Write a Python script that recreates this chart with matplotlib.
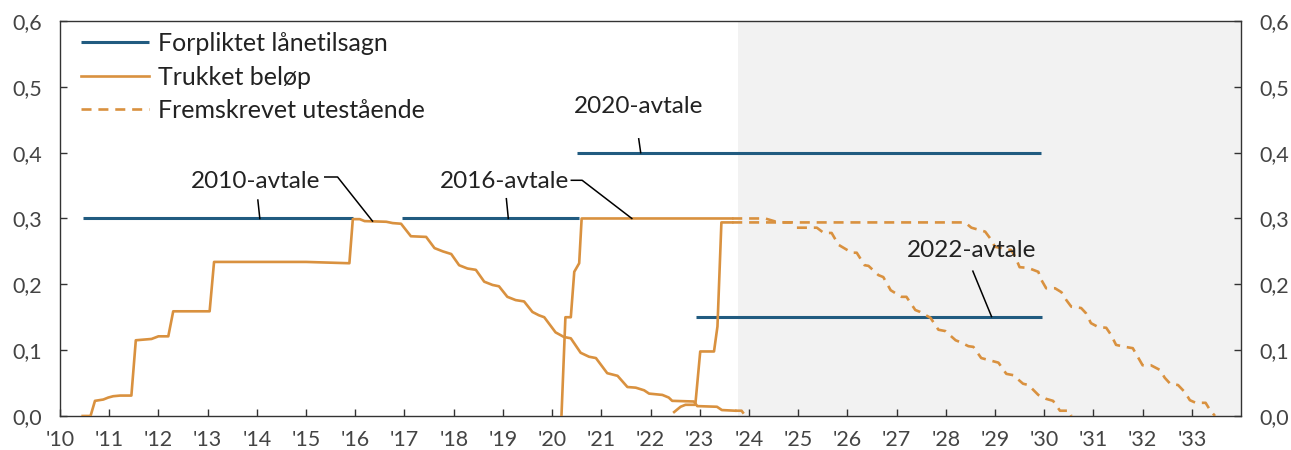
import matplotlib.pyplot as plt
from matplotlib.ticker import FixedLocator, FuncFormatter

plt.rcParams['font.family'] = ['Lato', 'DejaVu Sans']

BLUE = '#215b80'
ORANGE = '#d9913f'

# forpliktet lånetilsagn (avtaleperioder)
commit_start = [2010.46, 2016.94, 2020.51, 2022.92]
commit_end = [2015.95, 2020.55, 2029.94, 2029.95]
commit_level = [0.30, 0.30, 0.40, 0.15]

# trukket beløp, 2010-avtalen
draw10_x = [2010.46, 2010.62, 2010.71, 2010.88, 2010.98, 2011.08, 2011.22, 2011.45, 2011.54, 2011.86,
            2012.0, 2012.2, 2012.30, 2013.04, 2013.13, 2015.0, 2015.88, 2015.95, 2016.09, 2016.19,
            2016.63, 2016.76, 2016.93, 2017.13, 2017.44, 2017.61, 2017.78, 2017.95, 2018.11, 2018.28,
            2018.45, 2018.62, 2018.79, 2018.92, 2019.09, 2019.26, 2019.43, 2019.6, 2019.73, 2019.84,
            2020.07, 2020.24, 2020.38, 2020.58, 2020.75, 2020.89, 2021.12, 2021.33, 2021.53, 2021.7,
            2021.87, 2021.97, 2022.24, 2022.37, 2022.44, 2022.88, 2022.95, 2023.35, 2023.45, 2023.72]
draw10_y = [0, 0, 0.023, 0.025, 0.028, 0.030, 0.031, 0.031, 0.115, 0.117,
            0.121, 0.121, 0.159, 0.159, 0.234, 0.234, 0.232, 0.299, 0.299, 0.296,
            0.295, 0.293, 0.292, 0.273, 0.272, 0.255, 0.250, 0.246, 0.229, 0.224,
            0.222, 0.204, 0.199, 0.197, 0.181, 0.176, 0.174, 0.158, 0.153, 0.150,
            0.127, 0.120, 0.118, 0.096, 0.090, 0.088, 0.065, 0.061, 0.044, 0.043,
            0.039, 0.034, 0.032, 0.028, 0.023, 0.022, 0.015, 0.014, 0.009, 0.008]

# trukket beløp, 2020-avtalen
draw20_x = [2020.19, 2020.27, 2020.38, 2020.45, 2020.55, 2020.6, 2023.66]
draw20_y = [0.0, 0.150, 0.150, 0.219, 0.232, 0.300, 0.300]

# trukket beløp, 2022-avtalen
draw22_x = [2022.48, 2022.61, 2022.71, 2022.91, 2023.01, 2023.29, 2023.36, 2023.44, 2023.66]
draw22_y = [0.006, 0.014, 0.017, 0.017, 0.098, 0.098, 0.136, 0.294, 0.294]

# fremskrevet utestående
proj10_x = [2023.72, 2023.85, 2023.93]
proj10_y = [0.008, 0.008, 0.0]

proj20_x = [2023.66, 2024.33, 2024.6, 2024.87, 2024.97, 2025.38, 2025.52, 2025.68, 2025.82, 2026.09,
            2026.19, 2026.35, 2026.43, 2026.63, 2026.73, 2026.88, 2027.1, 2027.2, 2027.38, 2027.48,
            2027.69, 2027.85, 2027.99, 2028.2, 2028.3, 2028.46, 2028.56, 2028.72, 2029.07, 2029.23,
            2029.37, 2029.57, 2029.68, 2029.88, 2030.04, 2030.18, 2030.32, 2030.51, 2030.55]
proj20_y = [0.300, 0.300, 0.294, 0.294, 0.286, 0.286, 0.278, 0.278, 0.260, 0.248,
            0.248, 0.229, 0.228, 0.214, 0.211, 0.191, 0.181, 0.181, 0.161, 0.158,
            0.149, 0.131, 0.129, 0.115, 0.112, 0.106, 0.105, 0.088, 0.081, 0.064,
            0.062, 0.049, 0.047, 0.032, 0.026, 0.023, 0.008, 0.008, 0.0]

proj22_x = [2023.66, 2028.39, 2028.52, 2028.8, 2028.9, 2029.0, 2029.13, 2029.33, 2029.41, 2029.5,
            2029.67, 2029.88, 2029.94, 2030.04, 2030.22, 2030.35, 2030.45, 2030.55, 2030.75, 2030.85,
            2030.95, 2031.1, 2031.26, 2031.36, 2031.46, 2031.64, 2031.8, 2031.9, 2032.0, 2032.17,
            2032.35, 2032.45, 2032.56, 2032.72, 2032.86, 2032.96, 2033.08, 2033.28, 2033.37, 2033.47]
proj22_y = [0.294, 0.294, 0.286, 0.280, 0.270, 0.257, 0.255, 0.252, 0.242, 0.226,
            0.225, 0.219, 0.207, 0.194, 0.194, 0.188, 0.176, 0.166, 0.164, 0.156,
            0.141, 0.135, 0.134, 0.123, 0.108, 0.105, 0.103, 0.090, 0.077, 0.077,
            0.070, 0.058, 0.049, 0.047, 0.036, 0.024, 0.020, 0.020, 0.009, 0.0]

shade_from = 2023.77
years = list(range(2010, 2034))
yticks = [0.0, 0.1, 0.2, 0.3, 0.4, 0.5, 0.6]

fig = plt.figure(figsize=(12.91, 4.5), dpi=100)
ax = fig.add_axes([0.0465, 0.0756, 0.9148, 0.8778])
ax.set_xlim(2010, 2034)
ax.set_ylim(0, 0.6)

ax.axvspan(shade_from, 2034, color='#f2f2f2', lw=0, zorder=0)

lw_b, lw_o = 2.2, 1.9
dash = (3.8, 2.6)
for i in range(len(commit_level)):
    ax.plot([commit_start[i], commit_end[i]], [commit_level[i]] * 2, color=BLUE, lw=lw_b,
            solid_capstyle='butt', zorder=2, label='Forpliktet lånetilsagn' if i == 0 else None)

ax.plot(draw10_x, draw10_y, color=ORANGE, lw=lw_o, zorder=3, label='Trukket beløp')
ax.plot(draw20_x, draw20_y, color=ORANGE, lw=lw_o, zorder=3)
ax.plot(draw22_x, draw22_y, color=ORANGE, lw=lw_o, zorder=3)
ax.plot(proj10_x, proj10_y, color=ORANGE, lw=lw_o, ls=(0, dash), zorder=3,
        label='Fremskrevet utestående')
ax.plot(proj20_x, proj20_y, color=ORANGE, lw=lw_o, ls=(0, dash), zorder=3)
ax.plot(proj22_x, proj22_y, color=ORANGE, lw=lw_o, ls=(0, dash), zorder=3)

# etiketter med hjelpelinjer
tkw = dict(fontsize=17.5, color='#222222', ha='center', va='center')
lkw = dict(color='black', lw=1.1, zorder=4)
ax.text(2013.98, 0.356, '2010-avtale', **tkw)
ax.plot([2014.02, 2014.06], [0.328, 0.300], **lkw)
ax.plot([2015.38, 2015.64, 2016.35], [0.363, 0.363, 0.296], **lkw)

ax.text(2019.03, 0.356, '2016-avtale', **tkw)
ax.plot([2019.07, 2019.11], [0.330, 0.300], **lkw)
ax.plot([2020.39, 2020.61, 2021.62], [0.358, 0.358, 0.300], **lkw)

ax.text(2021.76, 0.470, '2020-avtale', **tkw)
ax.plot([2021.76, 2021.80], [0.421, 0.400], **lkw)

ax.text(2028.52, 0.252, '2022-avtale', **tkw)
ax.plot([2028.55, 2028.93], [0.220, 0.151], **lkw)

ax.xaxis.set_major_locator(FixedLocator(years))
ax.xaxis.set_major_formatter(FuncFormatter(lambda v, p: "'" + str(int(round(v)))[2:]))
ax.yaxis.set_major_locator(FixedLocator(yticks))
ax.yaxis.set_major_formatter(FuncFormatter(lambda v, p: f'{v:.1f}'.replace('.', ',')))
ax.tick_params(axis='both', direction='in', length=5, width=1, color='#333333',
               labelsize=15.5, labelcolor='#444444')
ax.tick_params(axis='y', right=True, labelright=True, pad=13)
ax.tick_params(axis='x', pad=10)
for s in ax.spines.values():
    s.set_color('#333333')
    s.set_linewidth(1.0)

leg = ax.legend(loc='upper left', bbox_to_anchor=(0.0085, 1.0), frameon=False, fontsize=18,
                handlelength=2.7, handletextpad=0.35, labelspacing=0.42, borderaxespad=0.0,
                borderpad=0.45)
for t in leg.get_texts():
    t.set_color('#222222')

fig.savefig('out.png', dpi=100)
